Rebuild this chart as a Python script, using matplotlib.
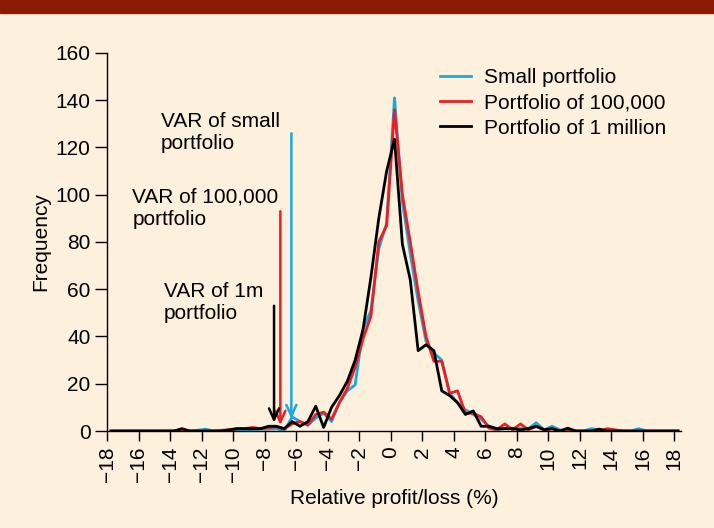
import numpy as np
import matplotlib
matplotlib.use("Agg")
import matplotlib.pyplot as plt
from matplotlib.patches import Rectangle

plt.rcParams['font.family'] = ['Liberation Sans', 'DejaVu Sans']

# histogram bin centres, bins are 0.5% wide
bins = np.arange(-17.75, 18.5, 0.5)

small = [0, 0, 0, 0, 0, 0, 0, 0, 0, 0,
         0, 0.3, 0.8, 0, 0, 0.3, 0.5, 0.5, 0.5, 0.8,
         0.8, 1, 0, 6, 4, 2.5, 5.5, 7.5, 4, 12,
         17, 19.5, 43, 51, 77, 88, 141, 97, 75, 55,
         38, 33, 30, 16, 12, 9, 7, 5, 2, 0.5,
         1, 1, 1, 1, 3.5, 0.5, 2, 0.5, 0, 0,
         0, 1, 0.5, 0, 0, 0, 0, 1, 0, 0,
         0, 0, 0]

p100k = [0, 0, 0, 0, 0, 0, 0, 0, 0, 0.5,
         0, 0, 0, 0, 0.3, 0.5, 1, 1, 1.5, 1,
         1.5, 1.8, 1, 3, 4, 2.5, 7, 8, 5, 12,
         18, 27, 39, 48.5, 80, 87, 136, 100, 80, 59,
         40, 29.5, 29.5, 16, 17, 7.5, 7.5, 6, 1.2, 0.5,
         3, 0.5, 3, 0.5, 2, 0.5, 1, 0, 0.5, 0,
         0, 0, 0, 1, 0.5, 0, 0, 0, 0, 0,
         0, 0, 0]

p1m = [0, 0, 0, 0, 0, 0, 0, 0, 0, 1,
       0, 0, 0, 0, 0, 0.5, 1, 1, 1, 1,
       2, 2, 1, 4, 2, 4, 10.5, 1.5, 10, 15,
       21, 30, 43, 65, 90, 110, 123.5, 79, 64, 34,
       36.5, 34, 17, 15, 12, 7, 8.5, 2, 2, 1,
       1, 1, 0.5, 1, 2, 0.5, 1, 0, 1.2, 0,
       0, 0, 0.8, 0, 0, 0, 0, 0, 0, 0,
       0, 0, 0]

labels = ['Small portfolio', 'Portfolio of 100,000', 'Portfolio of 1 million']
colors = ['#19a9e1', '#ee1c25', '#000000']

# VAR arrows: x position, top of shaft, tip height
var_x = [-6.3, -7.0, -7.4]
var_top = [126, 93, 53]
var_tip = [5, 2.5, 3.5]
var_text = ['VAR of small\nportfolio', 'VAR of 100,000\nportfolio', 'VAR of 1m\nportfolio']
text_pos = [(-14.6, 135), (-16.4, 103), (-14.4, 63)]

fs = 15
bg = '#fdf0dc'
fig = plt.figure(figsize=(7.14, 5.28), dpi=100, facecolor=bg)
fig.patches.append(Rectangle((0, 1 - 13 / 528), 1, 13 / 528, transform=fig.transFigure,
                             color='#8a1a00', zorder=0))
ax = fig.add_axes([0.150, 0.1837, 0.804, 0.716])
ax.set_facecolor(bg)

for ys, c, lab in zip([small, p100k, p1m], colors, labels):
    ax.plot(bins, ys, color=c, lw=2, label=lab)

for x, top, tip, c in zip(var_x, var_top, var_tip, colors):
    ax.annotate('', xy=(x, tip), xytext=(x, top),
                arrowprops=dict(arrowstyle='->,head_length=0.45,head_width=0.2',
                                color=c, lw=1.8, shrinkA=0, shrinkB=0,
                                mutation_scale=18))

for t, (tx, ty) in zip(var_text, text_pos):
    ax.text(tx, ty, t, ha='left', va='top', fontsize=fs, linespacing=1.2)

ax.set_xlim(-18, 18.45)
ax.set_ylim(0, 160)
ax.set_xticks(range(-18, 19, 2))
ax.set_yticks(range(0, 161, 20))
ax.tick_params(axis='x', labelrotation=90, labelsize=fs, length=7, width=1, pad=4)
ax.tick_params(axis='y', labelsize=fs, length=9, width=1, pad=3)
for s in ['top', 'right']:
    ax.spines[s].set_visible(False)
for s in ['left', 'bottom']:
    ax.spines[s].set_linewidth(1)

ax.set_xlabel('Relative profit/loss (%)', fontsize=fs, labelpad=5)
ax.set_ylabel('Frequency', fontsize=fs, labelpad=4)

ax.legend(loc='upper left', bbox_to_anchor=(0.58, 0.96), frameon=False,
          fontsize=fs, handlelength=1.5, handletextpad=0.6, labelspacing=0.3,
          borderpad=0, borderaxespad=0)

fig.savefig('out.png', dpi=100, facecolor=bg)
